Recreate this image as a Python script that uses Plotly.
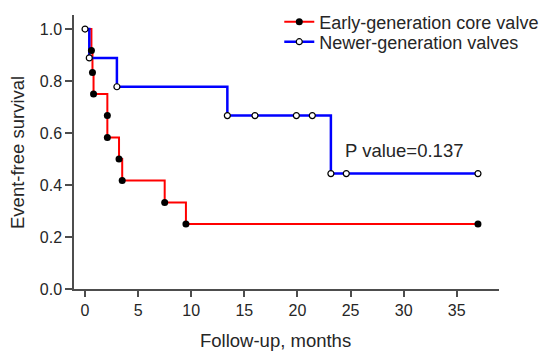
import plotly.graph_objects as go

# ---- data ----
early_x = [0, 0.6, 0.7, 0.8, 2.1, 2.1, 3.2, 3.5, 7.5, 9.5, 37]
early_y = [1.0, 0.917, 0.833, 0.75, 0.667, 0.583, 0.5, 0.417, 0.333, 0.25, 0.25]
early_mark_x = [0.6, 0.7, 0.8, 2.1, 2.1, 3.2, 3.5, 7.5, 9.5, 37]
early_mark_y = [0.917, 0.833, 0.75, 0.667, 0.583, 0.5, 0.417, 0.333, 0.25, 0.25]

newer_x = [0, 0.4, 3.0, 13.4, 16.0, 19.9, 21.4, 23.15, 24.6, 37]
newer_y = [1.0, 0.889, 0.778, 0.667, 0.667, 0.667, 0.667, 0.444, 0.444, 0.444]

x_ticks = [0, 5, 10, 15, 20, 25, 30, 35]
y_ticks = [0.0, 0.2, 0.4, 0.6, 0.8, 1.0]
y_tick_text = ["0.0", "0.2", "0.4", "0.6", "0.8", "1.0"]

series_names = ["Early-generation core valve", "Newer-generation valves"]
p_text = "P value=0.137"

RED = "#ff0000"
BLUE = "#0000ff"
FONT = "Liberation Sans, Arial, Helvetica, sans-serif"
TXT = "#262626"

fig = go.Figure()

# step lines
fig.add_trace(go.Scatter(x=early_x, y=early_y, mode="lines", line=dict(color=RED, width=2, shape="hv"),
                         showlegend=False, hoverinfo="skip"))
fig.add_trace(go.Scatter(x=newer_x, y=newer_y, mode="lines", line=dict(color=BLUE, width=2.5, shape="hv"),
                         showlegend=False, hoverinfo="skip"))
# markers
fig.add_trace(go.Scatter(x=early_mark_x, y=early_mark_y, mode="markers",
                         marker=dict(color="black", size=7, line=dict(width=0)), showlegend=False))
fig.add_trace(go.Scatter(x=newer_x, y=newer_y, mode="markers",
                         marker=dict(color="white", size=6, line=dict(color="black", width=1.2)), showlegend=False))
# legend entries
fig.add_trace(go.Scatter(x=[None], y=[None], mode="lines+markers", name=series_names[0],
                         line=dict(color=RED, width=2), marker=dict(color="black", size=7),
                         legend="legend"))
fig.add_trace(go.Scatter(x=[None], y=[None], mode="lines+markers", name=series_names[1],
                         line=dict(color=BLUE, width=2.5),
                         marker=dict(color="white", size=6, line=dict(color="black", width=1.2)),
                         legend="legend2"))

legend_common = dict(xanchor="left", yanchor="middle", bgcolor="rgba(0,0,0,0)",
                     font=dict(family=FONT, size=18, color=TXT), borderwidth=0,
                     itemwidth=30)

# plot area: 425 x 274 px (page body adds 8px offset)
fig.update_layout(
    width=560, height=344,
    margin=dict(l=66, r=69, t=7, b=63, autoexpand=False),
    paper_bgcolor="white", plot_bgcolor="white",
    font=dict(family=FONT, size=16, color=TXT),
    legend=dict(x=0.483, y=(289 - 22.0) / 274, **legend_common),
    legend2=dict(x=0.483, y=(289 - 42.0) / 274, **legend_common),
    xaxis=dict(range=[-1.04, 38.98], tickvals=x_ticks, ticks="outside", ticklen=6, tickwidth=1.5,
               tickcolor="#4d4d4d", showline=True, linecolor="#4d4d4d", linewidth=1.5,
               showgrid=False, zeroline=False, tickfont=dict(size=16, color=TXT)),
    yaxis=dict(range=[0, 1.054], tickvals=y_ticks, ticktext=y_tick_text, ticks="outside", ticklen=7,
               tickwidth=1.5, tickcolor="#4d4d4d", showline=True, linecolor="#4d4d4d", linewidth=1.5,
               showgrid=False, zeroline=False, tickfont=dict(size=16, color=TXT)),
    annotations=[
        dict(x=24.25, y=0.531, xref="x", yref="y", text=p_text, showarrow=False,
             xanchor="left", yanchor="middle", font=dict(size=18.5, color=TXT)),
        dict(x=(275.8 - 74) / 425, y=(289 - 340) / 274, xref="paper", yref="paper",
             text="Follow-up, months", showarrow=False, xanchor="center", yanchor="middle",
             font=dict(size=18.5, color=TXT)),
        dict(x=(18 - 74) / 425, y=(289 - 153) / 274, xref="paper", yref="paper",
             text="Event-free survival", showarrow=False, textangle=-90,
             xanchor="center", yanchor="middle", font=dict(size=18.5, color=TXT)),
    ],
)

fig.write_html("out.html")
